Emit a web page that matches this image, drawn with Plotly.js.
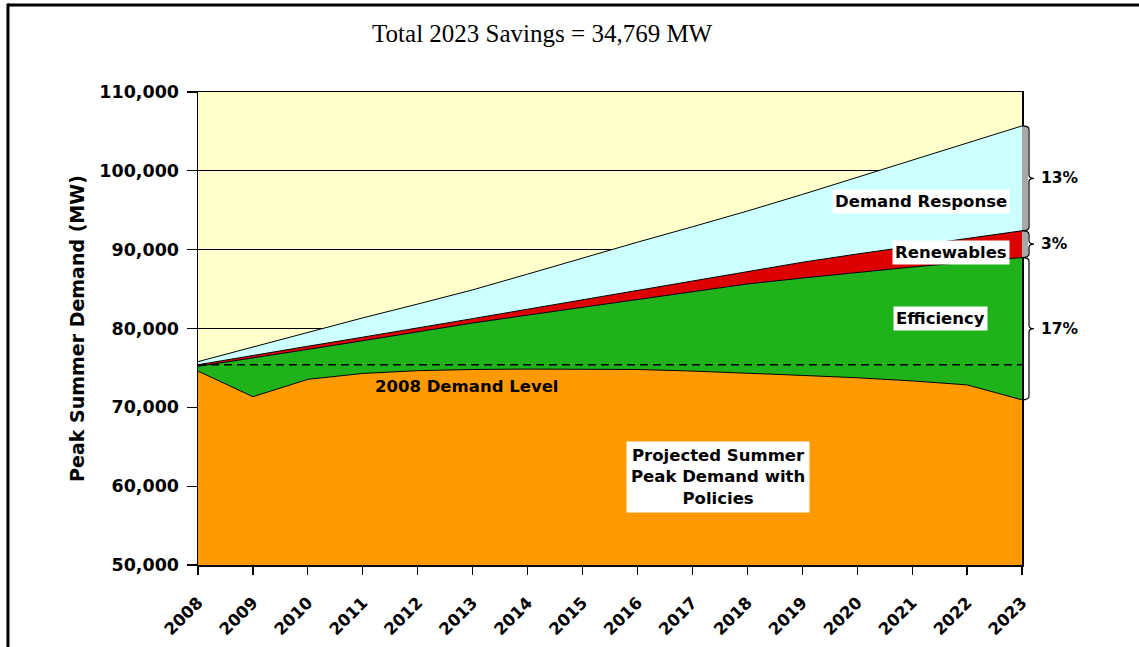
<!DOCTYPE html>
<html><head><meta charset="utf-8">
<script src="https://cdn.plot.ly/plotly-3.0.1.min.js"></script>
<style>html,body{margin:0;padding:0;background:#fff}#chart{width:1139px;height:647px}</style>
</head><body><div id="chart"></div>
<script>
const years = [2008,2009,2010,2011,2012,2013,2014,2015,2016,2017,2018,2019,2020,2021,2022,2023];
const projectedWithPolicies = [74600,71350,73550,74300,74650,74800,74850,74850,74800,74600,74350,74050,73750,73350,72850,70950];
const efficiency = [600,4900,3800,4150,4900,5900,6850,7850,8900,10100,11300,12350,13350,14450,15550,18050];
const renewables = [200,350,400,450,500,550,750,950,1150,1350,1600,2000,2350,2650,3050,3400];
const demandResponse = [400,1050,1800,2450,3050,3650,4450,5300,6100,6850,7650,8600,9700,10900,12050,13300];
const demandLevel2008 = 75400;
const shareLabels = ['13%', '3%', '17%'];
const titleText = 'Total 2023 Savings = 34,769 MW';
const yTitle = 'Peak Summer Demand (MW)';

const SANS = 'DejaVu Sans';
const black = '#000000';

function area(name, y, fill) {
  return {type:'scatter', mode:'lines', name:name, x:years, y:y, stackgroup:'one',
    fillcolor:fill, line:{color:black, width:1}, hoverinfo:'skip'};
}
const traces = [
  area('Projected Summer Peak Demand with Policies', projectedWithPolicies, '#FF9900'),
  area('Efficiency', efficiency, '#1FB21A'),
  area('Renewables', renewables, '#DD0000'),
  area('Demand Response', demandResponse, '#CCFFFF'),
  {type:'scatter', mode:'lines', name:'2008 Demand Level',
   x:[years[0], years[years.length-1]], y:[demandLevel2008, demandLevel2008],
   line:{color:black, width:1.5, dash:'8px,5px'}, hoverinfo:'skip'}
];

const n = years.length - 1;
const yO = projectedWithPolicies[n];
const yG = yO + efficiency[n];
const yR = yG + renewables[n];
const yT = yR + demandResponse[n];

function brace(top, bot) {
  const m = (top + bot) / 2, c = 450;
  const x0 = 1.0, x1 = 1.0085, x2 = 1.0145;
  return {type:'path', xref:'paper', yref:'y', layer:'above',
    path:`M ${x0},${top} Q ${x1},${top} ${x1},${top-c} L ${x1},${m+c} Q ${x1},${m} ${x2},${m} Q ${x1},${m} ${x1},${m-c} L ${x1},${bot+c} Q ${x1},${bot} ${x0},${bot}`,
    line:{color:black, width:1.2}};
}

const shapes = [
  {type:'rect', xref:'paper', yref:'y', x0:1.0, x1:1.0075, y0:yG, y1:yT, fillcolor:'#A8A8A8', line:{width:0}, layer:'above'},
  brace(yT, yR), brace(yR, yG), brace(yG, yO),
  {type:'line', xref:'paper', yref:'paper', x0:-0.2306, x1:1.15, y0:1.184, y1:1.184, line:{color:black, width:3}},
  {type:'line', xref:'paper', yref:'paper', x0:-0.2306, x1:-0.2306, y0:1.187, y1:-0.2, line:{color:black, width:3}}
];

const lblFont = {family:SANS, size:16.5, color:black, weight:'bold'};
const pctFont = {family:SANS, size:15.5, color:black, weight:'bold'};
const annotations = [
  {x:2021.16, y:96050, xref:'x', yref:'y', text:'Demand Response', showarrow:false, font:lblFont, bgcolor:'#FFFFFF', borderpad:2},
  {x:2021.71, y:89700, xref:'x', yref:'y', text:'Renewables', showarrow:false, font:lblFont, bgcolor:'#FFFFFF', borderpad:2},
  {x:2021.51, y:81330, xref:'x', yref:'y', text:'Efficiency', showarrow:false, font:lblFont, bgcolor:'#FFFFFF', borderpad:2},
  {x:2012.9, y:72700, xref:'x', yref:'y', text:'2008 Demand Level', showarrow:false, font:lblFont},
  {x:2017.47, y:61160, xref:'x', yref:'y', text:'Projected Summer<br>Peak Demand with<br>Policies', showarrow:false, font:lblFont, bgcolor:'#FFFFFF', borderpad:4},
  {x:1.0205, xanchor:'left', y:(yT+yR)/2, xref:'paper', yref:'y', text:shareLabels[0], showarrow:false, font:pctFont},
  {x:1.0205, xanchor:'left', y:(yR+yG)/2, xref:'paper', yref:'y', text:shareLabels[1], showarrow:false, font:pctFont},
  {x:1.0205, xanchor:'left', y:(yG+yO)/2, xref:'paper', yref:'y', text:shareLabels[2], showarrow:false, font:pctFont}
];

const layout = {
  width:1139, height:647,
  margin:{l:198, r:117, t:92, b:82},
  paper_bgcolor:'#FFFFFF', plot_bgcolor:'#FFFFCC',
  showlegend:false,
  title:{text:titleText, font:{family:'Liberation Serif', size:25, color:black},
    x:0.476, xanchor:'center', xref:'container', y:0.949, yanchor:'middle', yref:'container'},
  xaxis:{range:[years[0], years[n]], tickvals:years, ticktext:years.map(String), tickangle:-45,
    ticks:'outside', ticklen:8, tickcolor:black, tickwidth:1.2, ticklabelstandoff:12,
    showline:true, mirror:true, linecolor:black, linewidth:1.5, showgrid:false, zeroline:false,
    tickfont:{family:SANS, size:16.5, color:black, weight:'bold'}},
  yaxis:{range:[50000,110000], dtick:10000, tickformat:',d',
    ticks:'outside', ticklen:10, tickcolor:black, tickwidth:1.2, ticklabelstandoff:4,
    showline:true, mirror:true, linecolor:black, linewidth:1.5,
    showgrid:true, gridcolor:black, gridwidth:1, zeroline:false,
    tickfont:{family:SANS, size:17.5, color:black, weight:'bold'},
    title:{text:yTitle, font:{family:SANS, size:19, color:black, weight:'bold'}, standoff:9}},
  shapes:shapes, annotations:annotations
};

Plotly.newPlot('chart', traces, layout, {displayModeBar:false, staticPlot:true});
</script>
</body></html>
